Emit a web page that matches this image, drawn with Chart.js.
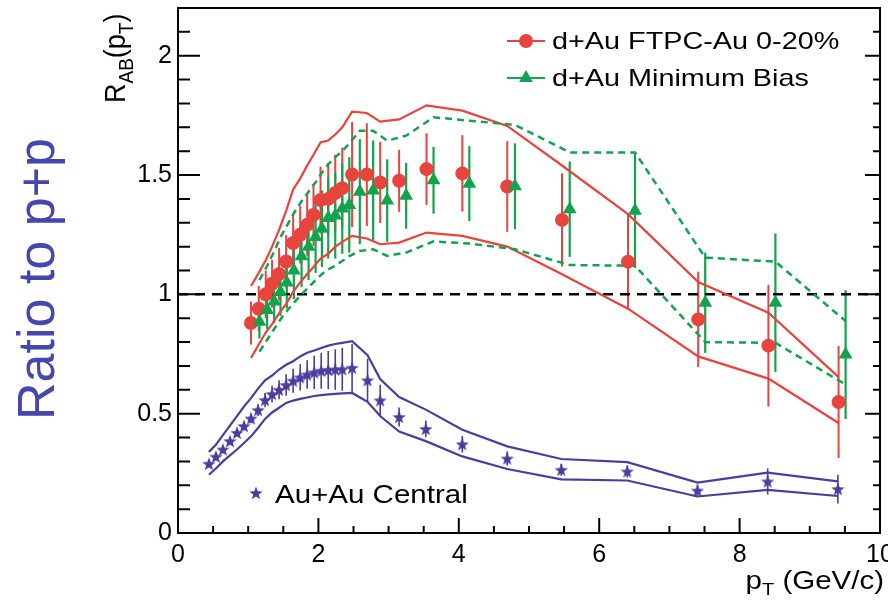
<!DOCTYPE html>
<html>
<head>
<meta charset="utf-8">
<script src="https://cdn.jsdelivr.net/npm/chart.js@4.4.0/dist/chart.umd.min.js"></script>
<style>
html, body { margin: 0; padding: 0; background: #fff; }
canvas { display: block; }
</style>
</head>
<body>
<canvas id="raa-chart" width="888" height="600"></canvas>
<script>
// d+Au FTPC-Au 0-20%
const ftpcPt = [1.04, 1.15, 1.25, 1.34, 1.44, 1.54, 1.64, 1.74, 1.84, 1.93, 2.03, 2.14, 2.24, 2.34, 2.48, 2.69, 2.88, 3.15, 3.54, 4.05, 4.69, 5.47, 6.41, 7.41, 8.41, 9.41];
const ftpcRab = [0.88, 0.94, 1.0, 1.045, 1.085, 1.138, 1.215, 1.25, 1.292, 1.333, 1.395, 1.40, 1.425, 1.445, 1.502, 1.502, 1.469, 1.476, 1.525, 1.507, 1.452, 1.312, 1.137, 0.895, 0.785, 0.549];
const ftpcStat = [0.09, 0.095, 0.1, 0.1, 0.11, 0.11, 0.12, 0.12, 0.13, 0.13, 0.14, 0.15, 0.16, 0.17, 0.22, 0.215, 0.17, 0.13, 0.15, 0.16, 0.19, 0.195, 0.2, 0.2, 0.255, 0.235];
const ftpcSysHi = [1.035, 1.09, 1.143, 1.2, 1.27, 1.35, 1.44, 1.485, 1.54, 1.585, 1.637, 1.645, 1.67, 1.70, 1.766, 1.76, 1.724, 1.733, 1.792, 1.77, 1.706, 1.54, 1.336, 1.052, 0.923, 0.653];
const ftpcSysLo = [0.734, 0.79, 0.84, 0.875, 0.92, 0.96, 1.01, 1.05, 1.085, 1.115, 1.15, 1.17, 1.2, 1.22, 1.245, 1.234, 1.21, 1.217, 1.259, 1.245, 1.2, 1.084, 0.94, 0.74, 0.647, 0.461];

// d+Au minimum bias
const mbPt = [1.16, 1.27, 1.37, 1.46, 1.55, 1.65, 1.76, 1.86, 1.96, 2.05, 2.14, 2.24, 2.34, 2.44, 2.59, 2.78, 2.98, 3.25, 3.64, 4.15, 4.80, 5.58, 6.51, 7.51, 8.51, 9.51];
const mbRab = [0.885, 0.935, 0.97, 1.01, 1.05, 1.10, 1.16, 1.20, 1.24, 1.275, 1.32, 1.33, 1.36, 1.375, 1.43, 1.435, 1.393, 1.413, 1.478, 1.464, 1.453, 1.357, 1.35, 0.965, 0.965, 0.748];
const mbStat = [0.07, 0.08, 0.09, 0.10, 0.11, 0.12, 0.13, 0.14, 0.15, 0.16, 0.17, 0.18, 0.19, 0.2, 0.22, 0.21, 0.173, 0.138, 0.14, 0.157, 0.18, 0.2, 0.24, 0.21, 0.29, 0.27];
const mbSysHi = [1.06, 1.12, 1.18, 1.24, 1.287, 1.34, 1.39, 1.43, 1.47, 1.51, 1.545, 1.575, 1.60, 1.632, 1.686, 1.686, 1.644, 1.665, 1.742, 1.728, 1.71, 1.595, 1.595, 1.154, 1.137, 0.888];
const mbSysLo = [0.76, 0.81, 0.855, 0.895, 0.93, 0.965, 1.0, 1.03, 1.06, 1.085, 1.105, 1.12, 1.14, 1.16, 1.182, 1.189, 1.161, 1.175, 1.222, 1.213, 1.189, 1.123, 1.12, 0.80, 0.797, 0.622];

// Au+Au central
const auPt = [0.44, 0.54, 0.64, 0.74, 0.84, 0.94, 1.04, 1.14, 1.24, 1.34, 1.44, 1.54, 1.64, 1.74, 1.84, 1.94, 2.04, 2.14, 2.24, 2.34, 2.48, 2.70, 2.88, 3.15, 3.53, 4.05, 4.69, 5.46, 6.40, 7.40, 8.40, 9.40];
const auRab = [0.29, 0.32, 0.35, 0.385, 0.42, 0.448, 0.48, 0.515, 0.557, 0.582, 0.6, 0.62, 0.638, 0.652, 0.664, 0.673, 0.68, 0.683, 0.685, 0.686, 0.692, 0.64, 0.556, 0.486, 0.436, 0.372, 0.312, 0.265, 0.258, 0.178, 0.216, 0.184];
const auStat = [0.015, 0.015, 0.015, 0.015, 0.015, 0.018, 0.02, 0.025, 0.03, 0.035, 0.04, 0.045, 0.05, 0.055, 0.06, 0.07, 0.075, 0.08, 0.085, 0.09, 0.1, 0.09, 0.065, 0.04, 0.035, 0.035, 0.03, 0.025, 0.025, 0.025, 0.055, 0.06];
const auSysHi = [0.34, 0.37, 0.41, 0.45, 0.49, 0.53, 0.565, 0.605, 0.64, 0.66, 0.685, 0.705, 0.72, 0.74, 0.755, 0.765, 0.775, 0.785, 0.792, 0.797, 0.804, 0.745, 0.645, 0.57, 0.517, 0.433, 0.363, 0.31, 0.297, 0.211, 0.253, 0.216];
const auSysLo = [0.244, 0.27, 0.3, 0.325, 0.35, 0.377, 0.405, 0.44, 0.478, 0.505, 0.525, 0.545, 0.555, 0.562, 0.568, 0.574, 0.578, 0.581, 0.583, 0.585, 0.587, 0.55, 0.49, 0.425, 0.385, 0.321, 0.268, 0.225, 0.22, 0.153, 0.181, 0.155];

const unityPt = [0, 10];
const unityRab = [1, 1];

const RED = "#e8433d";
const GREEN = "#13a34c";
const PURPLE = "#4d3c9e";
const FONT = "'Liberation Sans', Arial, sans-serif";

window.addEventListener("load", init);

function toPoints(xs, ys) {
    return xs.map(function (x, i) { return { x: x, y: ys[i] }; });
}

function makeStar(r, color) {
    const c = document.createElement("canvas");
    const s = Math.ceil(r * 2 + 2);
    c.width = s;
    c.height = s;
    const g = c.getContext("2d");
    g.translate(s / 2, s / 2 + 0.6);
    g.beginPath();
    for (let i = 0; i < 10; i++) {
        const rr = i % 2 === 0 ? r : r * 0.42;
        const a = -Math.PI / 2 + i * Math.PI / 5;
        g.lineTo(rr * Math.cos(a), rr * Math.sin(a));
    }
    g.closePath();
    g.fillStyle = color;
    g.fill();
    return c;
}

// stretched text helper (the source figure is a little wider than tall)
function stretchText(ctx, parts, x, y, sx, align) {
    ctx.save();
    let total = 0;
    parts.forEach(function (p) {
        ctx.font = p.size + "px " + FONT;
        p.w = ctx.measureText(p.text).width;
        total += p.w;
    });
    let left = align === "right" ? x - total * sx : x;
    ctx.translate(left, y);
    ctx.scale(sx, 1);
    let cx = 0;
    parts.forEach(function (p) {
        ctx.font = p.size + "px " + FONT;
        ctx.textAlign = "left";
        ctx.textBaseline = "alphabetic";
        ctx.fillText(p.text, cx, p.dy || 0);
        cx += p.w;
    });
    ctx.restore();
}

const errorBars = {
    id: "errorBars",
    beforeDatasetsDraw(chart) {
        const ctx = chart.ctx;
        const xs = chart.scales.x, ys = chart.scales.y;
        const area = chart.chartArea;
        ctx.save();
        ctx.beginPath();
        ctx.rect(area.left, area.top, area.right - area.left, area.bottom - area.top);
        ctx.clip();
        chart.data.datasets.forEach(function (ds) {
            if (!ds.yErr) return;
            ctx.strokeStyle = ds.errColor;
            ctx.lineWidth = ds.errWidth;
            ds.data.forEach(function (p, i) {
                const px = xs.getPixelForValue(p.x);
                ctx.beginPath();
                ctx.moveTo(px, ys.getPixelForValue(p.y + ds.yErr[i]));
                ctx.lineTo(px, ys.getPixelForValue(p.y - ds.yErr[i]));
                ctx.stroke();
            });
        });
        ctx.restore();
    }
};

const frameAndLabels = {
    id: "frameAndLabels",
    afterDraw(chart) {
        const ctx = chart.ctx;
        const xs = chart.scales.x, ys = chart.scales.y;
        const a = chart.chartArea;
        ctx.save();
        ctx.strokeStyle = "#000";
        ctx.lineWidth = 2;
        ctx.strokeRect(a.left, a.top, a.right - a.left, a.bottom - a.top);

        // inward ticks
        ctx.lineWidth = 2;
        ctx.beginPath();
        for (let k = 0; k <= 22; k++) {
            const py = ys.getPixelForValue(k / 10);
            const major = k % 5 === 0;
            ctx.moveTo(a.left, py);
            ctx.lineTo(a.left + (major ? 22 : 12), py);
            ctx.moveTo(a.right, py);
            ctx.lineTo(a.right - (major ? 15 : 7), py);
        }
        for (let k = 0; k <= 20; k++) {
            const px = xs.getPixelForValue(k / 2);
            const major = k % 4 === 0;
            ctx.moveTo(px, a.bottom);
            ctx.lineTo(px, a.bottom - (major ? 15 : 7));
        }
        ctx.stroke();

        // legend top right
        ctx.fillStyle = "#000";
        ctx.lineWidth = 2;
        ctx.strokeStyle = RED;
        ctx.beginPath();
        ctx.moveTo(507, 41);
        ctx.lineTo(545, 41);
        ctx.stroke();
        ctx.fillStyle = RED;
        ctx.beginPath();
        ctx.arc(526, 41, 7, 0, Math.PI * 2);
        ctx.fill();
        ctx.strokeStyle = GREEN;
        ctx.beginPath();
        ctx.moveTo(507, 78);
        ctx.lineTo(545, 78);
        ctx.stroke();
        ctx.fillStyle = GREEN;
        ctx.beginPath();
        ctx.moveTo(526, 78 - 8);
        ctx.lineTo(526 + 6.9, 78 + 4);
        ctx.lineTo(526 - 6.9, 78 + 4);
        ctx.closePath();
        ctx.fill();
        ctx.fillStyle = "#000";
        stretchText(ctx, [{ text: "d+Au FTPC-Au 0-20%", size: 24 }], 552, 49, 1.2, "left");
        stretchText(ctx, [{ text: "d+Au Minimum Bias", size: 24 }], 552, 86, 1.2, "left");

        // Au+Au legend
        const star = chart.data.datasets[6].pointStyle;
        ctx.drawImage(star, 256 - star.width / 2, 493 - star.height / 2);
        stretchText(ctx, [{ text: "Au+Au Central", size: 25 }], 275, 503, 1.18, "left");

        // x title
        stretchText(ctx, [
            { text: "p", size: 25 },
            { text: "T", size: 17, dy: 6 },
            { text: " (GeV/c)", size: 25 }
        ], 884, 589, 1.18, "right");

        // y title, rotated
        ctx.save();
        ctx.translate(125, 103);
        ctx.rotate(-Math.PI / 2);
        ctx.scale(1, 1.1);
        let cx = 0;
        [{ t: "R", s: 27, dy: 0 }, { t: "AB", s: 19, dy: 7 }, { t: "(p", s: 27, dy: 0 }, { t: "T", s: 19, dy: 7 }, { t: ")", s: 27, dy: 0 }].forEach(function (p) {
            ctx.font = p.s + "px " + FONT;
            ctx.fillText(p.t, cx, p.dy);
            cx += ctx.measureText(p.t).width;
        });
        ctx.restore();

        // big side label
        ctx.save();
        ctx.translate(54, 279);
        ctx.rotate(-Math.PI / 2);
        ctx.font = "52px " + FONT;
        ctx.fillStyle = "#4547ad";
        ctx.textAlign = "center";
        ctx.fillText("Ratio to p+p", 0, 0);
        ctx.restore();

        ctx.restore();
    }
};

function init() {
    const starImg = makeStar(7, PURPLE);

    const data = {
        datasets: [
            {
                label: "unity",
                data: toPoints(unityPt, unityRab),
                showLine: true,
                borderColor: "#000",
                borderWidth: 2.5,
                borderDash: [10, 7],
                pointRadius: 0,
                order: 9
            },
            {
                label: "d+Au FTPC-Au 0-20%",
                data: toPoints(ftpcPt, ftpcRab),
                yErr: ftpcStat,
                errColor: RED,
                errWidth: 2,
                pointStyle: "circle",
                pointRadius: 7,
                backgroundColor: RED,
                borderColor: RED,
                pointBorderWidth: 0,
                order: 1
            },
            {
                label: "FTPC sys hi",
                data: toPoints(ftpcPt, ftpcSysHi),
                showLine: true,
                borderColor: RED,
                borderWidth: 2.2,
                pointRadius: 0,
                order: 5
            },
            {
                label: "FTPC sys lo",
                data: toPoints(ftpcPt, ftpcSysLo),
                showLine: true,
                borderColor: RED,
                borderWidth: 2.2,
                pointRadius: 0,
                order: 5
            },
            {
                label: "d+Au Minimum Bias",
                data: toPoints(mbPt, mbRab),
                yErr: mbStat,
                errColor: GREEN,
                errWidth: 2.2,
                pointStyle: "triangle",
                pointRadius: 8,
                backgroundColor: GREEN,
                borderColor: GREEN,
                pointBorderWidth: 0,
                order: 0
            },
            {
                label: "MB sys hi",
                data: toPoints(mbPt, mbSysHi),
                showLine: true,
                borderColor: GREEN,
                borderWidth: 2.5,
                borderDash: [7, 5],
                pointRadius: 0,
                order: 4
            },
            {
                label: "Au+Au Central",
                data: toPoints(auPt, auRab),
                yErr: auStat,
                errColor: PURPLE,
                errWidth: 1.6,
                pointStyle: starImg,
                pointRadius: 7,
                backgroundColor: PURPLE,
                borderColor: PURPLE,
                order: 2
            },
            {
                label: "MB sys lo",
                data: toPoints(mbPt, mbSysLo),
                showLine: true,
                borderColor: GREEN,
                borderWidth: 2.5,
                borderDash: [7, 5],
                pointRadius: 0,
                order: 4
            },
            {
                label: "AuAu sys hi",
                data: toPoints(auPt, auSysHi),
                showLine: true,
                borderColor: PURPLE,
                borderWidth: 2.2,
                pointRadius: 0,
                order: 6
            },
            {
                label: "AuAu sys lo",
                data: toPoints(auPt, auSysLo),
                showLine: true,
                borderColor: PURPLE,
                borderWidth: 2.2,
                pointRadius: 0,
                order: 6
            }
        ]
    };

    const tickFont = { family: FONT, size: 25 };

    function plainNumber(value) {
        return String(Number(value.toFixed(2)));
    }

    const config = {
        type: "scatter",
        data: data,
        options: {
            responsive: false,
            animation: false,
            layout: { padding: { top: 8, right: 8, left: 0, bottom: 0 } },
            plugins: {
                legend: { display: false },
                tooltip: { enabled: false }
            },
            scales: {
                x: {
                    type: "linear",
                    min: 0,
                    max: 10,
                    ticks: { stepSize: 2, font: tickFont, color: "#000", padding: 7, maxRotation: 0, callback: plainNumber },
                    grid: { display: false, drawTicks: false },
                    border: { display: false },
                    afterFit: function (s) { s.height = 67; s.paddingLeft = 0; s.paddingRight = 0; }
                },
                y: {
                    min: 0,
                    max: 2.2,
                    ticks: { stepSize: 0.5, includeBounds: false, font: tickFont, color: "#000", padding: 6, callback: plainNumber },
                    grid: { display: false, drawTicks: false },
                    border: { display: false },
                    afterFit: function (s) { s.width = 178; s.paddingTop = 0; s.paddingBottom = 0; }
                }
            }
        },
        plugins: [errorBars, frameAndLabels]
    };

    const raaChart = new Chart(document.getElementById("raa-chart"), config);
}
</script>
</body>
</html>
